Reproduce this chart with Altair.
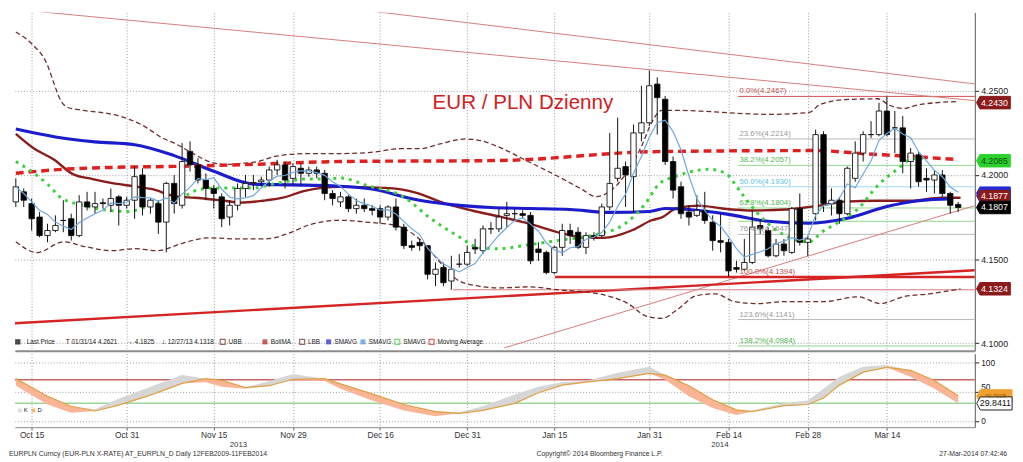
import altair as alt
import pandas as pd

# ---------------- daily candles EUR/PLN (trading day index 0..119) ----------------
opens = [4.184,4.190,4.183,4.175,4.164,4.167,4.173,4.174,4.164,4.184,
         4.181,4.1835,4.182,4.187,4.182,4.185,4.200,4.181,4.183,4.172,
         4.195,4.182,4.214,4.206,4.197,4.192,4.187,4.175,4.182,4.192,
         4.195,4.196,4.197,4.203,4.206,4.198,4.204,4.201,4.203,4.201,
         4.189,4.184,4.187,4.180,4.182,4.180,4.180,4.175,4.181,4.169,
         4.158,4.160,4.158,4.141,4.145,4.137,4.147,4.147,4.157,4.155,
         4.168,4.168,4.176,4.177,4.177,4.176,4.156,4.154,4.142,4.157,
         4.167,4.166,4.157,4.164,4.164,4.181,4.198,4.205,4.199,4.225,
         4.231,4.254,4.245,4.208,4.193,4.178,4.176,4.179,4.172,4.161,
         4.160,4.145,4.144,4.148,4.170,4.167,4.152,4.159,4.154,4.180,
         4.160,4.177,4.224,4.183,4.185,4.177,4.198,4.213,4.224,4.224,
         4.238,4.228,4.228,4.208,4.212,4.198,4.197,4.200,4.189,4.1825]
highs = [4.198,4.192,4.186,4.178,4.171,4.176,4.185,4.177,4.188,4.190,
         4.190,4.186,4.192,4.188,4.187,4.205,4.204,4.186,4.185,4.196,
         4.200,4.219,4.220,4.210,4.201,4.194,4.189,4.185,4.195,4.200,
         4.200,4.199,4.205,4.209,4.208,4.207,4.207,4.205,4.205,4.203,
         4.191,4.190,4.188,4.186,4.186,4.182,4.182,4.182,4.186,4.171,
         4.161,4.162,4.158,4.148,4.148,4.152,4.153,4.158,4.162,4.170,
         4.172,4.180,4.184,4.180,4.179,4.178,4.160,4.155,4.158,4.171,
         4.171,4.169,4.166,4.166,4.183,4.225,4.234,4.208,4.230,4.253,
         4.2621,4.258,4.247,4.211,4.196,4.182,4.188,4.190,4.176,4.177,
         4.162,4.149,4.162,4.179,4.173,4.169,4.162,4.162,4.181,4.189,
         4.164,4.227,4.226,4.192,4.187,4.205,4.220,4.226,4.232,4.243,
         4.2467,4.238,4.235,4.216,4.214,4.204,4.203,4.203,4.190,4.184]
lows = [4.181,4.181,4.167,4.163,4.160,4.166,4.166,4.161,4.163,4.179,
        4.177,4.180,4.178,4.170,4.180,4.174,4.176,4.177,4.165,4.154,
        4.177,4.180,4.202,4.195,4.185,4.180,4.169,4.170,4.179,4.187,
        4.191,4.193,4.193,4.200,4.192,4.194,4.194,4.199,4.198,4.185,
        4.182,4.181,4.178,4.177,4.178,4.176,4.171,4.173,4.167,4.156,
        4.155,4.155,4.138,4.134,4.134,4.1318,4.145,4.146,4.153,4.153,
        4.165,4.166,4.169,4.173,4.174,4.147,4.149,4.141,4.141,4.152,
        4.159,4.156,4.153,4.161,4.163,4.179,4.196,4.181,4.178,4.220,
        4.229,4.224,4.206,4.186,4.174,4.170,4.175,4.171,4.155,4.154,
        4.1394,4.142,4.143,4.147,4.165,4.151,4.151,4.152,4.153,4.158,
        4.152,4.173,4.178,4.176,4.171,4.176,4.196,4.208,4.222,4.223,
        4.223,4.213,4.201,4.192,4.193,4.190,4.189,4.187,4.177,4.178]
closes = [4.193,4.185,4.174,4.164,4.167,4.170,4.173,4.164,4.184,4.181,
          4.183,4.183,4.186,4.182,4.185,4.199,4.181,4.185,4.172,4.195,
          4.183,4.208,4.206,4.197,4.192,4.189,4.174,4.182,4.192,4.195,
          4.1955,4.197,4.203,4.206,4.197,4.205,4.201,4.203,4.201,4.189,
          4.186,4.187,4.180,4.182,4.180,4.179,4.175,4.181,4.169,4.158,
          4.157,4.158,4.141,4.144,4.136,4.144,4.147,4.154,4.156,4.168,
          4.168,4.175,4.177,4.177,4.176,4.149,4.154,4.142,4.157,4.167,
          4.164,4.157,4.164,4.163,4.181,4.195,4.204,4.200,4.225,4.231,
          4.253,4.246,4.208,4.191,4.177,4.175,4.179,4.173,4.161,4.160,
          4.143,4.144,4.148,4.169,4.168,4.152,4.159,4.155,4.180,4.160,
          4.162,4.224,4.183,4.185,4.177,4.204,4.213,4.224,4.224,4.238,
          4.224,4.228,4.208,4.213,4.196,4.197,4.200,4.189,4.182,4.1807]

tick_idx = [2, 14, 25, 35, 46, 57, 68, 80, 90, 100, 110]
tick_labels = ["Oct 15", "Oct 31", "Nov 15", "Nov 29", "Dec 16", "Dec 31",
               "Jan 15", "Jan 31", "Feb 14", "Feb 28", "Mar 14"]

# ---------------- indicator lines ----------------
ubb_idx = [0, 2, 4, 4.8, 5.6, 6.6, 8.5, 12.2, 14.3, 16.2, 18.3, 20.4, 22.4, 24.4, 26.5, 28.5,
           30.6, 32.7, 36.7, 40.8, 44.5, 48.6, 51.1, 53.6, 56.8, 58.8, 60.9, 64.7, 68.9, 71.4,
           73.3, 75.1, 77, 79.1, 80.3, 81.6, 83.4, 87.1, 91.2, 95.3, 100.2, 101.5, 104.7, 108.8,
           110.4, 112, 114.1, 118.8]
ubb_val = [4.2850, 4.2780, 4.2652, 4.2547, 4.2448, 4.2401, 4.2384, 4.2360, 4.2331, 4.2290,
           4.2226, 4.2180, 4.2127, 4.2080, 4.2063, 4.2069, 4.2080, 4.2110, 4.2127, 4.2127,
           4.2133, 4.2156, 4.2156, 4.2185, 4.2214, 4.2203, 4.2168, 4.2080, 4.1981, 4.1917,
           4.1871, 4.1906, 4.2005, 4.2180, 4.2313, 4.2384, 4.2384, 4.2378, 4.2366, 4.2360,
           4.2372, 4.2418, 4.2448, 4.2453, 4.2413, 4.2395, 4.2418, 4.2436]
lbb_idx = [0, 2.7, 6, 8.8, 12.2, 15, 17.9, 20.8, 24.2, 28.4, 31.6, 34.5, 37.3, 41, 44.5, 47.8,
           51.1, 53.6, 56, 58.5, 61, 64.7, 68.7, 73.6, 77.3, 79.7, 81.6, 83.4, 85.9, 88.3, 90.8,
           93.6, 96.9, 101.8, 106.4, 109.2, 112, 115.4, 119.3]
lbb_val = [4.1603, 4.1539, 4.1603, 4.1574, 4.1550, 4.1562, 4.1550, 4.1591, 4.1626, 4.1620,
           4.1620, 4.1655, 4.1707, 4.1731, 4.1719, 4.1702, 4.1614, 4.1480, 4.1370, 4.1340,
           4.1329, 4.1335, 4.1317, 4.1294, 4.1236, 4.1160, 4.1148, 4.1195, 4.1282, 4.1294,
           4.1247, 4.1236, 4.1247, 4.1247, 4.1276, 4.1236, 4.1276, 4.1294, 4.1323]
bma_idx = [0, 2.3, 4.8, 7.2, 9.7, 12.2, 14.6, 17.1, 20.4, 22.6, 26.3, 28.4, 31.2, 33.7, 36.5,
           38.6, 41, 46.6, 50.6, 53.9, 57.6, 61, 64.7, 68.9, 72.1, 74.2, 77.9, 80.3, 81.6, 83.4,
           86.2, 89.2, 93.2, 97.3, 101.5, 104.7, 108.8, 112.9, 117, 119.3]
bma_val = [4.2244, 4.2157, 4.2092, 4.2005, 4.1976, 4.1952, 4.1935, 4.1917, 4.1871, 4.1865,
           4.1847, 4.1836, 4.1847, 4.1865, 4.1906, 4.1923, 4.1929, 4.1923, 4.1894, 4.1836,
           4.1789, 4.1754, 4.1713, 4.1655, 4.1626, 4.1626, 4.1673, 4.1731, 4.1748, 4.1801,
           4.1818, 4.1801, 4.1789, 4.1795, 4.1818, 4.1842, 4.1847, 4.1847, 4.1865, 4.1865]
sma_blue_idx = [0, 5, 10, 15, 20, 25, 30, 35, 40, 45, 50, 55, 60, 65, 70, 75, 80, 82, 85, 90,
                95, 100, 105, 110, 114, 118.3]
sma_blue_val = [4.2273, 4.2226, 4.2197, 4.2180, 4.2115, 4.2022, 4.1946, 4.1941, 4.1935, 4.1917,
                4.1859, 4.1824, 4.1807, 4.1801, 4.1795, 4.1778, 4.1783, 4.1801, 4.1795, 4.1766,
                4.1725, 4.1713, 4.1743, 4.1813, 4.1847, 4.1859]
ma_red_idx = [0, 6, 12, 20, 30, 41, 61, 81, 101, 107, 113, 118.8]
ma_red_val = [4.2010, 4.2034, 4.2045, 4.2051, 4.2063, 4.2080, 4.2086, 4.2139, 4.2145, 4.2127,
              4.2110, 4.2092]
sma_green_idx = [0, 2.3, 4, 5.7, 7.6, 9.7, 11.8, 14.3, 16.2, 18.3, 20.8, 22.6, 25, 27.5, 30,
                 32.4, 34.5, 36.5, 38.9, 41, 44.5, 48.7, 52.7, 56, 58.5, 61, 64.7, 68.9, 73, 77,
                 79.5, 81.2, 83.4, 85.5, 87.5, 89.6, 91.6, 93.6, 95.7, 97.8, 100.2, 101.8, 103.9,
                 106.4, 108.8, 111.3, 113.3, 114.5]
sma_green_val = [4.2080, 4.2010, 4.1946, 4.1865, 4.1830, 4.1806, 4.1789, 4.1783, 4.1806, 4.1836,
                 4.1859, 4.1906, 4.1923, 4.1923, 4.1923, 4.1946, 4.1964, 4.1976, 4.1976, 4.1982,
                 4.1935, 4.1877, 4.1731, 4.1632, 4.1568, 4.1562, 4.1585, 4.1614, 4.1643, 4.1713,
                 4.1830, 4.1946, 4.1993, 4.2022, 4.2034, 4.2010, 4.1894, 4.1777, 4.1684, 4.1626,
                 4.1603, 4.1661, 4.1719, 4.1801, 4.1935, 4.2034, 4.2098, 4.2098]

# trend lines: start idx, start value, end idx, end value
trend_x0 = [-0.12, 37.96, 61.7, -0.12, 68.1, 55.2]
trend_y0 = [4.2984, 4.3013, 4.0973, 4.1119, 4.1394, 4.1318]
trend_x1 = [121.1, 121.1, 121.1, 121.1, 121.1, 121.1]
trend_y1 = [4.2442, 4.2541, 4.1818, 4.1434, 4.1394, 4.1318]
trend_thick = [False, False, False, True, True, False]

# Fibonacci retracement
fib_pct = ["0.0%", "23.6%", "38.2%", "50.0%", "61.8%", "76.4%", "100.0%", "123.6%", "138.2%"]
fib_val = [4.2467, 4.2214, 4.2057, 4.1930, 4.1804, 4.1647, 4.1394, 4.1141, 4.0984]
fib_start = 91.2
extra_green_level = 4.1725

# right-hand value tags
tag_val = [4.2430, 4.2085, 4.1892, 4.1877, 4.1807, 4.1324]
tag_txt = ["4.2430", "4.2085", "", "4.1877", "4.1807", "4.1324"]

# stochastic panel
stoch_idx = [0, 4, 7, 10, 13, 17, 21, 24, 26, 29, 32, 35, 39, 41, 45, 49, 53, 56, 59, 63, 66, 69,
             72, 76, 80, 82, 85, 88, 91, 93, 97, 100, 102, 104, 107, 110, 113, 116, 119]
stoch_k = [60, 28, 14, 20, 38, 58, 78, 66, 58, 55, 68, 80, 68, 55, 35, 18, 8, 15, 25, 45, 58, 66,
           68, 82, 92, 70, 42, 22, 10, 18, 30, 35, 55, 75, 92, 95, 75, 55, 30]
stoch_d = [72, 42, 25, 17, 27, 44, 64, 72, 69, 57, 60, 71, 72, 63, 46, 28, 16, 13, 18, 30, 48, 61,
           66, 72, 81, 78, 60, 36, 19, 16, 26, 28, 39, 61, 83, 91, 86, 69, 43]
stoch_levels = [70, 30]
stoch_tag_val = [42.0, 29.8411]
stoch_tag_txt = ["40.7098", "29.8411"]

# ---------------- layout ----------------
W, H1, H2 = 979, 345, 75
FONT = "Liberation Sans"
XS = alt.Scale(domain=[-0.12, 121.1], nice=False, zero=False)
YS = alt.Scale(domain=[4.0956, 4.2966], nice=False, zero=False)
YS2 = alt.Scale(domain=[-10.5, 114.5], nice=False, zero=False)
GRID = "#9a9a9a"

label_expr = ("[" + ",".join("'%s'" % s for s in tick_labels) + "][indexof(["
              + ",".join(str(v) for v in tick_idx) + "], datum.value)]")


def xm(f):
    return alt.X(f, type="quantitative", scale=XS, title=None,
                 axis=alt.Axis(values=tick_idx, labels=False, ticks=False, domain=True,
                               domainColor="#8c8c8c", domainWidth=2, grid=True, gridColor=GRID,
                               gridDash=[1, 2], gridWidth=1))


def ym(f):
    return alt.Y(f, type="quantitative", scale=YS, title=None,
                 axis=alt.Axis(orient="right", values=[4.10, 4.15, 4.20, 4.25], format=".4f",
                               grid=True, gridColor=GRID, gridDash=[1, 2], domainColor="#555",
                               tickColor="#222", tickSize=4, labelFont=FONT, labelFontSize=9,
                               labelColor="#222", labelPadding=2))


def xl(f):
    return alt.X(f, type="quantitative", scale=XS, title=None,
                 axis=alt.Axis(values=tick_idx, labelExpr=label_expr, grid=True, gridColor=GRID,
                               gridDash=[1, 2], domain=True, domainColor="#888", tickColor="#666",
                               tickSize=3, labelFont=FONT, labelFontSize=8.5, labelColor="#333",
                               labelPadding=1))


def yl(f):
    return alt.Y(f, type="quantitative", scale=YS2, title=None,
                 axis=alt.Axis(orient="right", values=[0, 50, 100], format="d", grid=True,
                               gridColor=GRID, gridDash=[1, 2], domainColor="#555",
                               tickColor="#222", tickSize=4, labelFont=FONT, labelFontSize=8.5,
                               labelColor="#222", labelPadding=2,
                               labelBaseline={"condition": {"test": "datum.value == 50",
                                                            "value": "bottom"},
                                              "value": "middle"}))


ONE = pd.DataFrame({"a": [0]})


def txt(s, x, y, size=7.0, color="#222", align="left", weight="normal"):
    return alt.Chart(ONE).mark_text(text=s, align=align, baseline="middle", fontSize=size,
                                    font=FONT, color=color, fontWeight=weight).encode(
        x=alt.value(x), y=alt.value(y))


def series(idx, val, **mk):
    d = pd.DataFrame({"i": idx, "v": val})
    return alt.Chart(d).mark_line(**mk).encode(x=xm("i"), y=ym("v"))


# ---------------- main panel ----------------
n = len(closes)
cdf = pd.DataFrame({"i": list(range(n)), "open": opens, "high": highs, "low": lows,
                    "close": closes})
cdf["dir"] = ["up" if c >= o else "down" for o, c in zip(opens, closes)]

tdf = pd.DataFrame({"x0": trend_x0, "y0": trend_y0, "x1": trend_x1, "y1": trend_y1,
                    "c": ["#d87a7a" if not t else "#d42424" for t in trend_thick],
                    "w": [1.0 if not t else 2.4 for t in trend_thick]})
trend = alt.Chart(tdf).mark_rule(clip=True).encode(
    x=xm("x0"), y=ym("y0"), x2="x1", y2="y1",
    color=alt.Color("c:N", scale=None), strokeWidth=alt.StrokeWidth("w:Q", scale=None))

fib_line_col = ["#d05050", "#b8b8b8", "#8fd88f", "#9fd8ee", "#8fd88f", "#b8b8b8", "#d05050",
                "#b8b8b8", "#8fd88f"]
fib_text_col = ["#c0504d", "#9a9a9a", "#52b852", "#5cbfe0", "#52b852", "#9a9a9a", "#c0504d",
                "#9a9a9a", "#52b852"]
fdf = pd.DataFrame({"v": fib_val + [extra_green_level],
                    "x0": [fib_start] * (len(fib_val) + 1),
                    "x1": [121.1] * (len(fib_val) + 1),
                    "c": fib_line_col + ["#8fd88f"],
                    "tc": fib_text_col + ["#52b852"],
                    "t": ["%s(%.4f)" % (p, v) for p, v in zip(fib_pct, fib_val)] + [""]})
fib_lines = alt.Chart(fdf).mark_rule(strokeWidth=1).encode(
    x=xm("x0"), x2="x1", y=ym("v"), color=alt.Color("c:N", scale=None))
fib_text = alt.Chart(fdf).mark_text(align="left", baseline="bottom", dy=-1, fontSize=8,
                                    font=FONT).encode(
    x=alt.value(739), y=ym("v"), text="t:N", color=alt.Color("tc:N", scale=None))

ubb = series(ubb_idx, ubb_val, color="#6e2b2b", strokeWidth=1.3, strokeDash=[5, 3],
             interpolate="monotone")
lbb = series(lbb_idx, lbb_val, color="#6e2b2b", strokeWidth=1.3, strokeDash=[5, 3],
             interpolate="monotone")
bma = series(bma_idx, bma_val, color="#8b1c1c", strokeWidth=2.4, interpolate="monotone")
blue = series(sma_blue_idx, sma_blue_val, color="#1c1ccc", strokeWidth=3.2,
              interpolate="monotone")
red = series(ma_red_idx, ma_red_val, color="#e02020", strokeWidth=3.5, strokeDash=[8, 5],
             interpolate="monotone")
green = series(sma_green_idx, sma_green_val, color="#3cd03c", strokeWidth=3,
               strokeDash=[3, 5], interpolate="monotone")

wicks = alt.Chart(cdf).mark_rule(color="#111", strokeWidth=1).encode(
    x=xm("i"), y=ym("low"), y2="high")
bodies = alt.Chart(cdf).transform_calculate(
    x0="datum.i - 0.34", x1="datum.i + 0.34").mark_rect(stroke="#111", strokeWidth=0.9).encode(
    x=xm("x0:Q"), x2="x1:Q", y=ym("open"), y2="close",
    fill=alt.Fill("dir:N", scale=alt.Scale(domain=["up", "down"], range=["#ffffff", "#000000"]),
                  legend=None))
sma5 = alt.Chart(cdf).transform_window(
    sma="mean(close)", frame=[-4, 0], sort=[alt.SortField("i")]).mark_line(
    color="#6fa8dc", strokeWidth=1.2).encode(x=xm("i"), y=ym("sma:Q"))

TAG = "M-1,0L-0.8,-0.37L1,-0.37L1,0.37L-0.8,0.37Z"
tgdf = pd.DataFrame({"v": tag_val, "t": tag_txt,
                     "f": ["#8b1a1a", "#2bd22b", "#2a2ad0", "#8b1a1a", "#000000", "#8b1a1a"],
                     "s": ["#8b1a1a", "#2bd22b", "#2a2ad0", "#2a2ad0", "#000000", "#8b1a1a"],
                     "tc": ["#ffffff", "#0b4d0b", "#ffffff", "#ffffff", "#ffffff", "#ffffff"]})
tag_shape = alt.Chart(tgdf).mark_point(shape=TAG, size=1190, filled=True, opacity=1,
                                       strokeWidth=1).encode(
    x=alt.value(998), y=ym("v"), fill=alt.Fill("f:N", scale=None),
    stroke=alt.Stroke("s:N", scale=None))
tag_text = alt.Chart(tgdf).mark_text(fontSize=9, font=FONT, align="center",
                                     baseline="middle", dx=1).encode(
    x=alt.value(998), y=ym("v"), text="t:N", color=alt.Color("tc:N", scale=None))

title = txt("EUR / PLN Dzienny", 426, 93, size=21, color="#d02020")

legend_layers = []
LY = 336
legend_layers.append(alt.Chart(ONE).mark_square(size=30, color="#000", filled=True).encode(
    x=alt.value(3), y=alt.value(LY)))
legend_layers.append(txt("Last Price", 12, LY, 6.5))
legend_layers.append(txt("T 01/31/14 4.2621", 52, LY, 6.5))
legend_layers.append(txt("\u2192 4.1825", 114, LY, 6.5))
legend_layers.append(txt("\u22a5 12/27/13 4.1318", 149, LY, 6.5))
leg_items = [(212, "#6e2b2b", False, "UBB"), (255, "#b01818", True, "BollMA"),
             (293, "#6e2b2b", False, "LBB"), (320, "#1c1ccc", True, "SMAVG"),
             (355, "#4a90e2", True, "SMAVG"), (390, "#3cd03c", False, "SMAVG"),
             (425, "#e02020", False, "Moving Average")]
for lx, col, filled, name in leg_items:
    legend_layers.append(alt.Chart(ONE).mark_square(size=26, color=col, filled=filled,
                                                    strokeWidth=1.2).encode(
        x=alt.value(lx), y=alt.value(LY)))
    legend_layers.append(txt(name, lx + 6, LY, 6.5))

main = alt.layer(fib_lines, trend, ubb, lbb, bma, blue, red, green, wicks, bodies, sma5,
                 fib_text, tag_shape, tag_text, title, *legend_layers).properties(
    width=W, height=H1)

# ---------------- stochastic panel ----------------
sdf = pd.DataFrame({"i": stoch_idx, "k": stoch_k, "d": stoch_d})
gray_area = alt.Chart(sdf).transform_calculate(hi="max(datum.k, datum.d)").mark_area(
    color="#d6d6d6").encode(x=xl("i"), y=yl("d"), y2="hi:Q")
sal_area = alt.Chart(sdf).transform_calculate(lo="min(datum.k, datum.d)").mark_area(
    color="#f9b596").encode(x=xl("i"), y=yl("lo:Q"), y2="d")
dline = alt.Chart(sdf).mark_line(color="#e0a040", strokeWidth=1.2).encode(x=xl("i"), y=yl("d"))
ldf = pd.DataFrame({"v": stoch_levels, "c": ["#c86464", "#9ad89a"]})
levels = alt.Chart(ldf).mark_rule(strokeWidth=1.5).encode(
    y=yl("v"), color=alt.Color("c:N", scale=None))
stdf = pd.DataFrame({"v": stoch_tag_val, "t": stoch_tag_txt, "f": ["#f0a030", "#ffffff"],
                     "s": ["#f0a030", "#222222"], "tc": ["#8a5a10", "#111111"],
                     "fs": [6.0, 9.0]})
st_shape = alt.Chart(stdf).mark_point(shape=TAG, size=1300, filled=True, opacity=1,
                                      strokeWidth=1).encode(
    x=alt.value(999), y=yl("v"), fill=alt.Fill("f:N", scale=None),
    stroke=alt.Stroke("s:N", scale=None))
st_text = alt.Chart(stdf).mark_text(font=FONT, align="center", baseline="middle",
                                    dx=1).encode(
    x=alt.value(999), y=yl("v"), text="t:N", color=alt.Color("tc:N", scale=None),
    size=alt.Size("fs:Q", scale=None))
low_legend = [
    alt.Chart(ONE).mark_square(size=16, color="#cfcfcf", filled=True).encode(
        x=alt.value(5), y=alt.value(58)),
    txt("K", 9, 58, 6),
    alt.Chart(ONE).mark_square(size=16, color="#f0a030", filled=True).encode(
        x=alt.value(19), y=alt.value(58)),
    txt("D", 23, 58, 6),
]
footer = [
    txt("2013", 228, 93, 8, "#333", "center"),
    txt("2014", 719, 93, 8, "#333", "center"),
    txt("EURPLN Curncy (EUR-PLN X-RATE) AT_EURPLN_D  Daily 12FEB2009-11FEB2014", -6, 102, 7,
        "#333"),
    txt("Copyright\u00a9 2014 Bloomberg Finance L.P.", 532, 102, 7, "#333"),
    txt("27-Mar-2014 07:42:46", 1012, 102, 7, "#333", "right"),
]
lower = alt.layer(levels, gray_area, sal_area, dline, st_shape, st_text, *low_legend,
                  *footer).properties(width=W, height=H2)

chart = alt.vconcat(main, lower, spacing=3).properties(
    padding={"left": 0, "right": 0, "top": 0, "bottom": 0}, background="white"
).configure(font=FONT).configure_view(stroke=None)

chart.save("out.html", embed_options={"renderer": "svg", "actions": False})
